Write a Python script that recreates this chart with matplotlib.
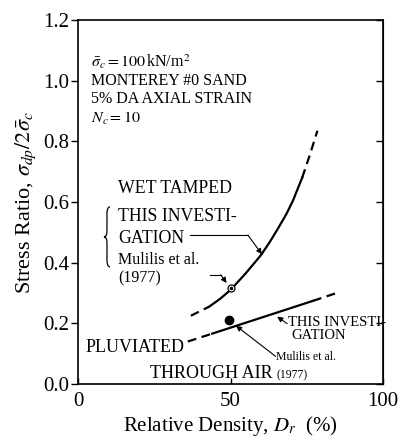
import matplotlib
matplotlib.use("Agg")
import matplotlib.pyplot as plt
from matplotlib.path import Path
from matplotlib.patches import PathPatch

plt.rcParams['font.family'] = ['Liberation Serif', 'DejaVu Serif']
plt.rcParams['mathtext.fontset'] = 'stix'

# ---- data ----
wet_dr = [37, 43, 46.5, 50, 55, 60, 63, 66, 68.3, 70.5, 73.5, 76, 78.5]
wet_sr = [0.225, 0.255, 0.28, 0.31, 0.365, 0.425, 0.47, 0.52, 0.56, 0.605, 0.68, 0.755, 0.835]
wet_solid = (1, 10)          # indices of solid part (inclusive)

pluv_dr = [36, 44, 77, 86]
pluv_sr = [0.14, 0.166, 0.274, 0.304]
pluv_solid = (1, 2)

mulilis_wet = (50, 0.315)
mulilis_pluv = (49.5, 0.21)

x_ticks = [0, 50, 100]
x_ticklabels = ["0", "50", "100"]
y_ticks = [0.0, 0.2, 0.4, 0.6, 0.8, 1.0, 1.2]
y_ticklabels = ["0.0", "0.2", "0.4", "0.6", "0.8", "1.0", "1.2"]

fig = plt.figure(figsize=(4.0, 4.38), dpi=100)
ax = fig.add_axes([0.195, 0.1233, 0.7625, 0.831])
ax.set_xlim(0, 100)
ax.set_ylim(0, 1.2)

lw = 1.6
dash = (0, (4, 2.5))

def draw_curve(xs, ys, solid):
    a, b = solid
    ax.plot(xs[:a + 1], ys[:a + 1], color='black', lw=lw, linestyle=dash)
    ax.plot(xs[a:b + 1], ys[a:b + 1], color='black', lw=lw, solid_joinstyle='round')
    ax.plot(xs[b:], ys[b:], color='black', lw=lw, linestyle=dash)

draw_curve(wet_dr, wet_sr, wet_solid)
draw_curve(pluv_dr, pluv_sr, pluv_solid)

ax.plot(*mulilis_wet, marker='o', ms=5, mfc='white', mec='black', mew=0.9)
ax.plot(*mulilis_wet, marker='o', ms=1.5, color='black')
ax.plot(*mulilis_pluv, marker='o', ms=6, color='black')

# ticks
ax.set_xticks(x_ticks)
ax.set_xticklabels(x_ticklabels)
ax.set_yticks(y_ticks)
ax.set_yticklabels(y_ticklabels)
ax.tick_params(axis='y', which='both', direction='out', length=5, width=1,
               labelsize=15, pad=1, right=False)
ax.tick_params(axis='x', which='both', direction='in', length=4, width=1,
               labelsize=15, pad=6)
for sp in ax.spines.values():
    sp.set_linewidth(1.2)
ax2 = ax.secondary_yaxis('right')
ax2.set_yticks(y_ticks)
ax2.tick_params(direction='in', length=5, width=1, labelright=False)

ax.set_xlabel("Relative Density, $D_r$  (%)", fontsize=15, labelpad=2)
ax.set_ylabel(r"Stress Ratio, $\sigma_{dp}/2\bar{\sigma}_c$", fontsize=16, labelpad=4)

fs = 11.5
ax.text(4.3, 1.062, r"$\bar{\sigma}_c=100\,$kN/m$^2$", fontsize=fs, va='center')
ax.text(4.3, 1.0, "MONTEREY #0 SAND", fontsize=fs, va='center')
ax.text(4.3, 0.94, "5% DA AXIAL STRAIN", fontsize=fs, va='center')
ax.text(4.3, 0.877, r"$N_c=10$", fontsize=fs, va='center')

fs2 = 12.8
ax.text(13.1, 0.646, "WET TAMPED", fontsize=fs2, va='center')
ax.text(13.1, 0.551, "THIS INVESTI-", fontsize=fs2, va='center')
ax.text(13.1, 0.481, "GATION", fontsize=fs2, va='center')
ax.text(13.1, 0.409, "Mulilis et al.", fontsize=11.5, va='center')
ax.text(13.1, 0.349, "(1977)", fontsize=11.5, va='center')

# thin brace
verts = [(10.5, 0.584), (9.5, 0.584), (9.5, 0.56), (9.5, 0.505),
         (9.5, 0.485), (8.5, 0.485), (9.5, 0.485), (9.5, 0.465),
         (9.5, 0.41), (9.5, 0.386), (10.5, 0.386)]
codes = [Path.MOVETO, Path.CURVE3, Path.CURVE3, Path.LINETO,
         Path.CURVE3, Path.CURVE3, Path.CURVE3, Path.CURVE3,
         Path.LINETO, Path.CURVE3, Path.CURVE3]
ax.add_patch(PathPatch(Path(verts, codes), fill=False, lw=0.9, color='black'))

ax.text(2.6, 0.119, "PLUVIATED", fontsize=13, va='center')
ax.text(23.6, 0.036, "THROUGH AIR", fontsize=13, va='center')

ax.text(68.9, 0.204, "THIS INVESTI-", fontsize=10.5, va='center')
ax.text(70.0, 0.161, "GATION", fontsize=10.5, va='center')
ax.text(65.0, 0.088, "Mulilis et al.", fontsize=8.5, va='center')
ax.text(65.0, 0.030, "(1977)", fontsize=8.5, va='center')

ap = dict(arrowstyle='-|>', lw=0.8, color='black', mutation_scale=8, shrinkA=0, shrinkB=0)
ax.plot([36.8, 55.7], [0.491, 0.491], color='black', lw=0.8)
ax.annotate("", xy=(60.3, 0.428), xytext=(55.7, 0.491), arrowprops=ap)
ax.plot([43.3, 46.8], [0.36, 0.36], color='black', lw=0.8)
ax.annotate("", xy=(48.7, 0.333), xytext=(46.8, 0.36), arrowprops=ap)
ax.annotate("", xy=(65.3, 0.222), xytext=(68.6, 0.199), arrowprops=ap)
ax.annotate("", xy=(51.8, 0.192), xytext=(64.8, 0.091), arrowprops=ap)

fig.savefig("out.png", dpi=100)
